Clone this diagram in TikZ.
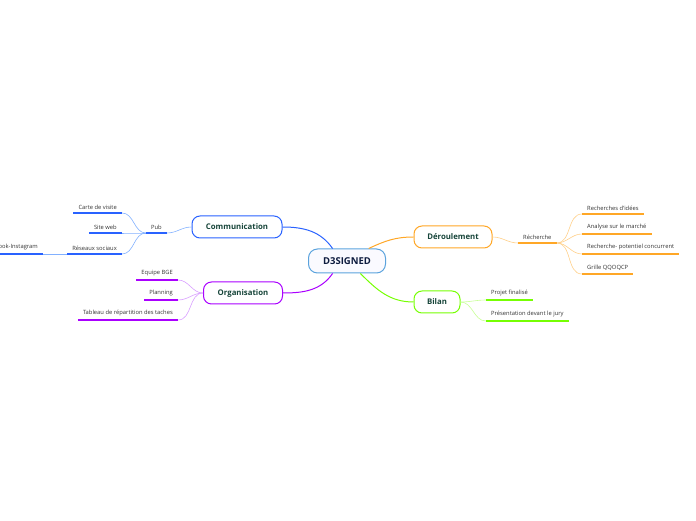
\documentclass[tikz,border=0pt]{standalone}
\usepackage{fontspec}
\setmainfont{Open Sans}
\usepackage{xcolor}
\usetikzlibrary{positioning, calc}

\definecolor{bluemain}{HTML}{2962FF}
\definecolor{bluesub}{HTML}{82B1FF}
\definecolor{purplemain}{HTML}{AA00FF}
\definecolor{purplesub}{HTML}{D9A0FF}
\definecolor{orangemain}{HTML}{FFA726}
\definecolor{orangesub}{HTML}{FFD08A}
\definecolor{greenmain}{HTML}{76FF03}
\definecolor{greensub}{HTML}{C8FF96}
\definecolor{rootline}{HTML}{5BA3DD}
\definecolor{topictext}{HTML}{17453A}
\definecolor{roottext}{HTML}{0E1C3F}

\begin{document}
\begin{tikzpicture}[
    x=1pt, y=1pt,
    root/.style={
        draw=rootline,
        line width=1pt,
        rounded corners=9pt,
        fill=blue!2,
        text=roottext,
        font=\fontsize{9.5}{10}\selectfont\bfseries,
        minimum width=77pt,
        minimum height=24pt
    },
    topic/.style={
        draw,
        line width=1pt,
        rounded corners=8pt,
        fill=white,
        text=topictext,
        font=\fontsize{7.8}{9}\selectfont\bfseries,
        minimum height=22pt
    },
    leaf/.style={
        font=\fontsize{5.8}{6.5}\selectfont,
        text=black!80,
        inner xsep=5pt,
        inner ysep=3.5pt
    },
    link/.style={line width=1pt},
    twig/.style={line width=0.6pt},
    uline/.style={line width=1.5pt}
]
\useasboundingbox (0,0) rectangle (696,520);

% --- centre ---
\node[root] (d3) at (347,259) {D3SIGNED};

% --- topics ---
\node[topic, draw=bluemain, minimum width=90pt] (comm) at (237,293) {Communication};
\node[topic, draw=purplemain, minimum width=79pt] (orga) at (243,227) {Organisation};
\node[topic, draw=orangemain, minimum width=78pt] (derou) at (453,283) {Déroulement};
\node[topic, draw=greenmain, minimum width=46pt] (bilan) at (437,218) {Bilan};

\draw[link, bluemain] (d3.139) to[out=125, in=0] (comm.east);
\draw[link, purplemain] (d3.221) to[out=235, in=0] (orga.east);
\draw[link, orangemain] (d3.30) to[out=25, in=180] (derou.west);
\draw[link, greenmain] (d3.-43) to[out=-45, in=180] (bilan.west);

% --- communication ---
\node[leaf, anchor=south east] (pub) at (167,287) {Pub};
\node[leaf, anchor=south east] (carte) at (122,307) {Carte de visite};
\node[leaf, anchor=south east] (site) at (122,287) {Site web};
\node[leaf, anchor=south east] (reseaux) at (122,266) {Réseaux sociaux};
\node[leaf, anchor=south east] (fb) at (43,266) {Facebook-Instagram};

\draw[twig, bluesub] (comm.west) to[out=180, in=0] (pub.south east);
\foreach \n in {carte, site, reseaux}
    \draw[twig, bluesub] (pub.south west) to[out=180, in=0] (\n.south east);
\draw[twig, bluesub] (reseaux.south west) -- (fb.south east);

% --- organisation ---
\node[leaf, anchor=south east] (equipe) at (178,240) {Equipe BGE};
\node[leaf, anchor=south east] (planning) at (178,220) {Planning};
\node[leaf, anchor=south east] (tableau) at (178,200) {Tableau de répartition des taches};

\foreach \n in {equipe, planning, tableau}
    \draw[twig, purplesub] (orga.west) to[out=180, in=0] (\n.south east);

% --- deroulement ---
\node[leaf, anchor=south west] (recherche) at (518,277) {Récherche};
\node[leaf, anchor=south west] (idees) at (582,306) {Recherches d'idées};
\node[leaf, anchor=south west] (marche) at (582,286) {Analyse sur le marché};
\node[leaf, anchor=south west] (concu) at (582,266) {Recherche- potentiel concurrent};
\node[leaf, anchor=south west] (grille) at (582,246) {Grille QQOQCP};

\draw[twig, orangesub] (derou.east) to[out=0, in=180] (recherche.south west);
\foreach \n in {idees, marche, concu, grille}
    \draw[twig, orangesub] (recherche.south east) to[out=0, in=180] (\n.south west);

% --- bilan ---
\node[leaf, anchor=south west] (projet) at (486,220) {Projet finalisé};
\node[leaf, anchor=south west] (jury) at (486,199) {Présentation devant le jury};

\foreach \n in {projet, jury}
    \draw[twig, greensub] (bilan.east) to[out=0, in=180] (\n.south west);

% --- soulignements ---
\foreach \n/\c in {pub/bluemain, carte/bluemain, site/bluemain, reseaux/bluemain, fb/bluemain,
    equipe/purplemain, planning/purplemain, tableau/purplemain,
    recherche/orangemain, idees/orangemain, marche/orangemain, concu/orangemain, grille/orangemain,
    projet/greenmain, jury/greenmain}
    \draw[uline, \c] (\n.south west) -- (\n.south east);

\end{tikzpicture}
\end{document}
